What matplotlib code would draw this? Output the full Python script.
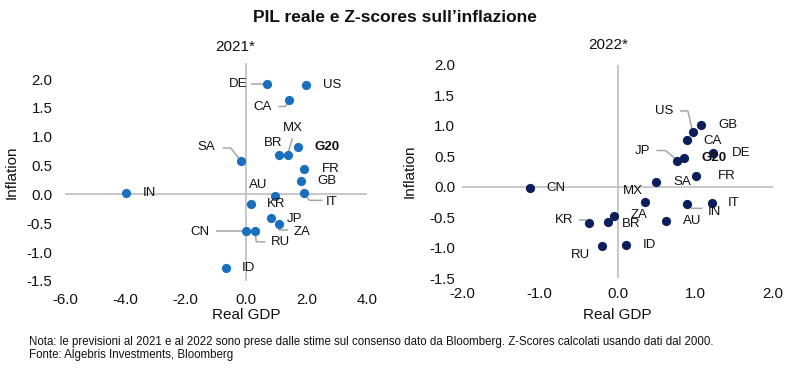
import matplotlib
matplotlib.use("Agg")
import matplotlib.pyplot as plt

plt.rcParams['font.family'] = ['Liberation Sans', 'DejaVu Sans']

# ---------------- data ----------------
countries_2021 = ["DE", "US", "CA", "G20", "MX", "BR", "SA", "FR", "GB", "IT",
                  "AU", "KR", "JP", "ZA", "CN", "RU", "ID", "IN"]
gdp_2021 = [0.70, 1.99, 1.43, 1.71, 1.40, 1.07, -0.18, 1.90, 1.80, 1.90,
            0.96, 0.16, 0.82, 1.10, 0.00, 0.30, -0.66, -3.97]
infl_2021 = [1.92, 1.89, 1.63, 0.82, 0.68, 0.69, 0.58, 0.45, 0.23, 0.02,
             -0.02, -0.16, -0.40, -0.52, -0.63, -0.63, -1.28, 0.03]

countries_2022 = ["CN", "GB", "US", "CA", "DE", "JP", "G20", "FR", "SA", "MX",
                  "IT", "IN", "ZA", "BR", "KR", "AU", "ID", "RU"]
gdp_2022 = [-1.12, 1.08, 0.97, 0.89, 1.23, 0.77, 0.85, 1.01, 0.50, 0.36,
            1.21, 0.90, -0.05, -0.12, -0.37, 0.62, 0.11, -0.20]
infl_2022 = [-0.02, 1.01, 0.90, 0.77, 0.56, 0.43, 0.47, 0.18, 0.07, -0.25,
             -0.27, -0.29, -0.48, -0.58, -0.59, -0.56, -0.95, -0.98]

xticks_2021 = [-6.0, -4.0, -2.0, 0.0, 2.0, 4.0]
xticks_2022 = [-2.0, -1.0, 0.0, 1.0, 2.0]
yticks = [-1.5, -1.0, -0.5, 0.0, 0.5, 1.0, 1.5, 2.0]

# ---------------- label placement (pixel offsets, y downward) ----------------
lab_2021 = {
    "DE": (-29, 0), "US": (26, 0), "CA": (-27, 7), "G20": (29, 0), "MX": (4, -27),
    "BR": (-5, -12), "SA": (-34, -14), "FR": (27, 0), "GB": (26, 0), "IT": (28, 9),
    "AU": (-17, -11), "KR": (25, 0), "JP": (24, 1), "ZA": (23, 8), "CN": (-46, 1),
    "RU": (25, 11), "ID": (22, 0), "IN": (23, 0),
}
lead_2021 = {
    "DE": [(-16, 0), (-4, 0)],
    "CA": [(-11, 6), (-4, 6), (-2, 3)],
    "MX": [(4, -17), (0, -4)],
    "SA": [(-18, -13), (-10, -13), (-2, -3)],
    "IT": [(1, 2), (6, 7), (19, 7)],
    "ZA": [(0, 3), (0, 6), (9, 6)],
    "CN": [(-30, 0), (-4, 0)],
    "RU": [(0, 3), (1, 11), (10, 11)],
}
lab_2022 = {
    "CN": (26, 0), "GB": (26, 0), "US": (-29, -21), "CA": (26, 1), "DE": (28, 0),
    "JP": (-35, -10), "G20": (30, 0), "FR": (31, 0), "SA": (26, 0), "MX": (-13, -11),
    "IT": (22, 0), "IN": (27, 8), "ZA": (25, -1), "BR": (23, 2), "KR": (-25, -3),
    "AU": (26, 0), "ID": (23, 0), "RU": (-22, 9),
}
lead_2022 = {
    "US": [(-13, -21), (-5, -21), (-1, -3)],
    "JP": [(-21, -10), (-12, -10), (-2, -2)],
    "IN": [(0, 0), (4, 4), (15, 4)],
    "KR": [(-10, -3), (-3, -3)],
}

W, H = 785, 369
fig = plt.figure(figsize=(W / 100, H / 100), dpi=100)

GRAY = "#bfbfbf"
LEAD = "#a6a6a6"
TXT = "#111111"


def make_panel(rect, xs, ys, names, color, xlim, ylim, xticks, title, title_xy,
               labs, leads, ytick_pad, xtick_pad, ylabel_x):
    ax = fig.add_axes([rect[0] / W, 1 - rect[3] / H, (rect[2] - rect[0]) / W,
                       (rect[3] - rect[1]) / H])
    ax.set_xlim(*xlim)
    ax.set_ylim(*ylim)
    for s in ax.spines.values():
        s.set_visible(False)
    ax.axhline(0, color=GRAY, lw=1.2, zorder=1)
    ax.plot([0, 0], [ylim[0], ylim[1]], color=GRAY, lw=1.2, zorder=1)
    ax.set_xticks(xticks)
    ax.set_xticklabels([f"{v:.1f}" for v in xticks])
    ax.set_yticks(yticks)
    ax.set_yticklabels([f"{v:.1f}" for v in yticks])
    ax.tick_params(length=0, labelsize=10.8, colors=TXT)
    ax.tick_params(axis="x", pad=xtick_pad)
    ax.tick_params(axis="y", pad=ytick_pad)
    ax.scatter(xs, ys, s=44, color=color, zorder=3, linewidths=0)
    for x, y, n in zip(xs, ys, names):
        dx, dy = labs[n]
        ax.annotate(n, (x, y), xytext=(dx, -dy), textcoords="offset pixels",
                    ha="center", va="center", fontsize=9.5, color=TXT,
                    fontweight="bold" if n == "G20" else "normal", zorder=4)
        if n in leads:
            px, py = ax.transData.transform((x, y))
            pts = [ax.transData.inverted().transform((px + ox, py - oy))
                   for ox, oy in leads[n]]
            ax.plot([p[0] for p in pts], [p[1] for p in pts], color=LEAD,
                    lw=1.1, zorder=2, solid_capstyle="butt")
    fig.text(title_xy[0] / W, 1 - title_xy[1] / H, title, ha="center",
             va="center", fontsize=11, color=TXT)
    # axis labels
    x0 = ax.transData.transform((0, 0))[0]
    fig.text(x0 / W, 1 - 315 / H, "Real GDP", ha="center", va="center",
             fontsize=11, color=TXT)
    fig.text(ylabel_x / W, 1 - ((rect[1] + rect[3]) / 2) / H, "Inflation",
             rotation=90, ha="center", va="center", fontsize=11, color=TXT)
    return ax


make_panel((65, 63, 367, 281), gdp_2021, infl_2021, countries_2021, "#1b6fbf",
           (-6, 4), (-1.5, 2.28), xticks_2021, "2021*", (235, 47),
           lab_2021, lead_2021, 9, 9, 12)
make_panel((462, 65, 773, 278), gdp_2022, infl_2022, countries_2022, "#0c1f5c",
           (-2, 2), (-1.5, 2.0), xticks_2022, "2022*", (608, 45),
           lab_2022, lead_2022, 5, 6.5, 410)

fig.text(395 / W, 1 - 18 / H, "PIL reale e Z-scores sull\u2019inflazione",
         ha="center", va="center", fontsize=12.5, fontweight="bold", color=TXT)
fig.text(29 / W, 1 - 342 / H,
         "Nota: le previsioni al 2021 e al 2022 sono prese dalle stime sul consenso dato da Bloomberg. Z-Scores calcolati usando dati dal 2000.",
         ha="left", va="center", fontsize=8.3, color=TXT)
fig.text(29 / W, 1 - 355 / H, "Fonte: Algebris Investments, Bloomberg",
         ha="left", va="center", fontsize=8.3, color=TXT)

fig.savefig("out.png", dpi=100)
